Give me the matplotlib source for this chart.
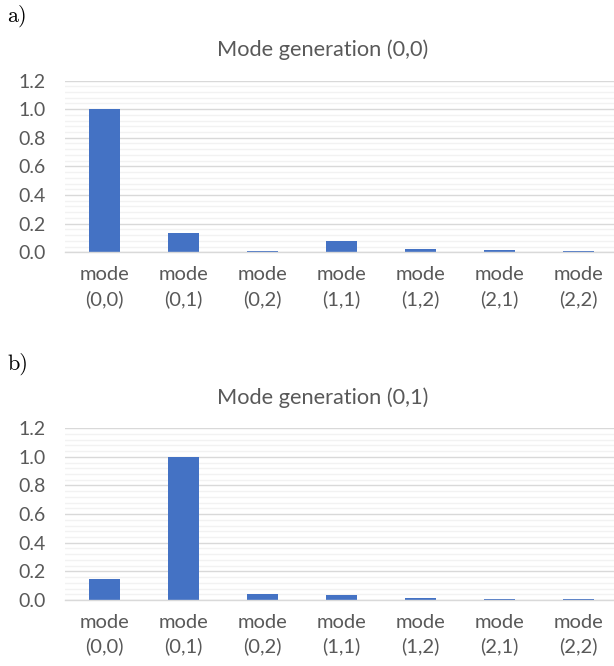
import matplotlib
matplotlib.use("Agg")
import matplotlib.pyplot as plt
from matplotlib.ticker import MultipleLocator

# Category labels shared by both panels
modes = ["(0,0)", "(0,1)", "(0,2)", "(1,1)", "(1,2)", "(2,1)", "(2,2)"]
tick_labels = ["mode\n" + m for m in modes]

# Relative mode content for each generated mode
gen_00 = [1.0, 0.135, 0.006, 0.081, 0.022, 0.018, 0.006]
gen_01 = [0.147, 1.0, 0.040, 0.035, 0.012, 0.006, 0.004]

titles = ["Mode generation (0,0)", "Mode generation (0,1)"]
panel_tags = ["a)", "b)"]
series = [gen_00, gen_01]

W, H = 614, 666
DPI = 100
BAR = "#4472C4"
TXT = "#595959"
FONT = "Lato"

fig = plt.figure(figsize=(W / DPI, H / DPI), dpi=DPI)

# pixel geometry of each panel: (axis top, axis bottom, title baseline, tag baseline)
panels = [(80.5, 252.3, 56.0, 22.0), (428.2, 600.0, 403.7, 369.5)]
ax_left, ax_right = 65.0, 618.0

for (top, bot, title_y, tag_y), vals, title, tag in zip(panels, series, titles, panel_tags):
    ax = fig.add_axes([ax_left / W, 1 - bot / H, (ax_right - ax_left) / W, (bot - top) / H])
    x = list(range(len(vals)))
    ax.bar(x, vals, width=0.4, color=BAR, zorder=3)
    ax.set_xlim(-0.5, len(vals) - 0.5)
    ax.set_ylim(0, 1.2)
    ax.yaxis.set_major_locator(MultipleLocator(0.2))
    ax.yaxis.set_minor_locator(MultipleLocator(0.04))
    ax.grid(axis="y", which="major", color="#d9d9d9", lw=1.0, zorder=1)
    ax.grid(axis="y", which="minor", color="#f2f2f2", lw=1.0, zorder=0)
    ax.set_xticks(x)
    ax.set_xticklabels(tick_labels, fontsize=14.5, color=TXT, family=FONT, linespacing=1.45)
    ax.set_yticks([0, 0.2, 0.4, 0.6, 0.8, 1.0, 1.2])
    ax.set_yticklabels([f"{v:.1f}" for v in [0, 0.2, 0.4, 0.6, 0.8, 1.0, 1.2]],
                       fontsize=14, color=TXT, family=FONT)
    ax.tick_params(axis="both", which="both", length=0)
    ax.tick_params(axis="y", pad=14)
    ax.tick_params(axis="x", pad=10)
    for side in ["top", "right", "left"]:
        ax.spines[side].set_visible(False)
    ax.spines["bottom"].set_color("#d9d9d9")
    ax.spines["bottom"].set_linewidth(1.0)
    ax.spines["bottom"].set_zorder(4)

    fig.text(323 / W, 1 - title_y / H, title, ha="center", va="baseline",
             fontsize=15.7, color=TXT, family=FONT)
    fig.text(7 / W, 1 - tag_y / H, tag, ha="left", va="baseline",
             fontsize=16, color="black", family="cmr10")

fig.savefig("out.png", dpi=DPI)
